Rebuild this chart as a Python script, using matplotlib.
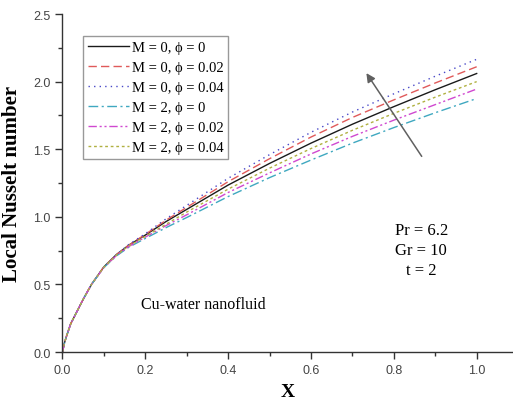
"""Local Nusselt number along X for Cu-water nanofluid."""
import matplotlib
matplotlib.use("Agg")
import matplotlib.pyplot as plt
from matplotlib.ticker import MultipleLocator

X = [0, 0.005, 0.01, 0.02, 0.03, 0.05, 0.07, 0.1, 0.13, 0.16, 0.2,
     0.25, 0.3, 0.4, 0.5, 0.6, 0.7, 0.8, 0.9, 1.0]

NU_M0_P0 = [0, 0.07, 0.12, 0.21, 0.27, 0.39, 0.50, 0.63, 0.72, 0.79, 0.865,
            0.965, 1.055, 1.235, 1.395, 1.545, 1.685, 1.815, 1.94, 2.06]
NU_M0_P002 = [0, 0.07, 0.12, 0.21, 0.27, 0.39, 0.50, 0.63, 0.72, 0.79, 0.87,
              0.975, 1.07, 1.26, 1.43, 1.59, 1.735, 1.865, 1.99, 2.11]
NU_M0_P004 = [0, 0.07, 0.12, 0.21, 0.27, 0.39, 0.50, 0.63, 0.72, 0.795, 0.875,
              0.985, 1.085, 1.285, 1.46, 1.625, 1.775, 1.91, 2.04, 2.165]
NU_M2_P0 = [0, 0.07, 0.12, 0.21, 0.27, 0.39, 0.50, 0.625, 0.71, 0.775, 0.84,
            0.92, 0.995, 1.15, 1.29, 1.42, 1.545, 1.66, 1.77, 1.875]
NU_M2_P002 = [0, 0.07, 0.12, 0.21, 0.27, 0.39, 0.50, 0.625, 0.713, 0.78, 0.85,
              0.935, 1.015, 1.18, 1.325, 1.465, 1.595, 1.715, 1.83, 1.945]
NU_M2_P004 = [0, 0.07, 0.12, 0.21, 0.27, 0.39, 0.50, 0.628, 0.716, 0.785, 0.855,
              0.945, 1.035, 1.205, 1.36, 1.505, 1.64, 1.765, 1.885, 2.0]

LABELS = ["M = 0, \u03d5 = 0", "M = 0, \u03d5 = 0.02", "M = 0, \u03d5 = 0.04",
          "M = 2, \u03d5 = 0", "M = 2, \u03d5 = 0.02", "M = 2, \u03d5 = 0.04"]

SERIF = ["Liberation Serif", "DejaVu Serif"]
SANS = ["Liberation Sans", "DejaVu Sans"]

fig = plt.figure(figsize=(5.13, 4.06), dpi=100)
ax = fig.add_axes([0.1218, 0.1305, 0.8782, 0.8325])

series = [NU_M0_P0, NU_M0_P002, NU_M0_P004, NU_M2_P0, NU_M2_P002, NU_M2_P004]
styles = [
    dict(color="#1a1a1a", linestyle="-"),
    dict(color="#e05a5a", linestyle=(0, (6, 3))),
    dict(color="#4848c8", linestyle=(0, (1, 3))),
    dict(color="#3fa8c0", linestyle=(0, (7, 2.5, 1.5, 2.5))),
    dict(color="#d048d0", linestyle=(0, (6, 2, 1.5, 2, 1.5, 2))),
    dict(color="#b0b040", linestyle=(0, (2, 2))),
]
for ys, st, lab in zip(series, styles, LABELS):
    ax.plot(X, ys, linewidth=1.0, label=lab, **st)

ax.set_xlim(0, 1.0877)
ax.set_ylim(0, 2.5)
ax.spines["top"].set_visible(False)
ax.spines["right"].set_visible(False)
for side in ("left", "bottom"):
    ax.spines[side].set_color("#333333")
    ax.spines[side].set_linewidth(1.0)

ax.xaxis.set_major_locator(MultipleLocator(0.2))
ax.xaxis.set_minor_locator(MultipleLocator(0.1))
ax.yaxis.set_major_locator(MultipleLocator(0.5))
ax.yaxis.set_minor_locator(MultipleLocator(0.25))
ax.tick_params(which="major", direction="out", length=5, width=1,
               color="#333333", labelcolor="#444444", labelsize=9)
ax.tick_params(which="minor", direction="out", length=3, width=1,
               color="#333333")
for lbl in ax.get_xticklabels() + ax.get_yticklabels():
    lbl.set_family(SANS)

ax.set_xlabel("X", family=SERIF, fontsize=14, fontweight="bold", labelpad=5)
ax.set_ylabel("Local Nusselt number", family=SERIF, fontsize=15,
              fontweight="bold", labelpad=8)

leg = ax.legend(loc="upper left", bbox_to_anchor=(0.045, 0.935),
                prop=dict(family=SERIF, size=10.5), handlelength=2.8,
                handletextpad=0.2, labelspacing=0.46, borderpad=0.35,
                borderaxespad=0, fancybox=False, framealpha=1)
leg.get_frame().set_edgecolor("#999999")
leg.get_frame().set_linewidth(1.0)

ax.annotate("", xy=(0.730, 2.08), xytext=(0.871, 1.43),
            arrowprops=dict(arrowstyle="-|>", color="#606060", lw=1.1,
                            mutation_scale=13))

ax.text(0.866, 0.754, "Pr = 6.2\nGr = 10\nt = 2", family=SERIF, fontsize=12,
        ha="center", va="center", linespacing=1.3)
ax.text(0.34, 0.355, "Cu-water nanofluid", family=SERIF, fontsize=11.5,
        ha="center", va="center")

fig.savefig("out.png", dpi=100)
